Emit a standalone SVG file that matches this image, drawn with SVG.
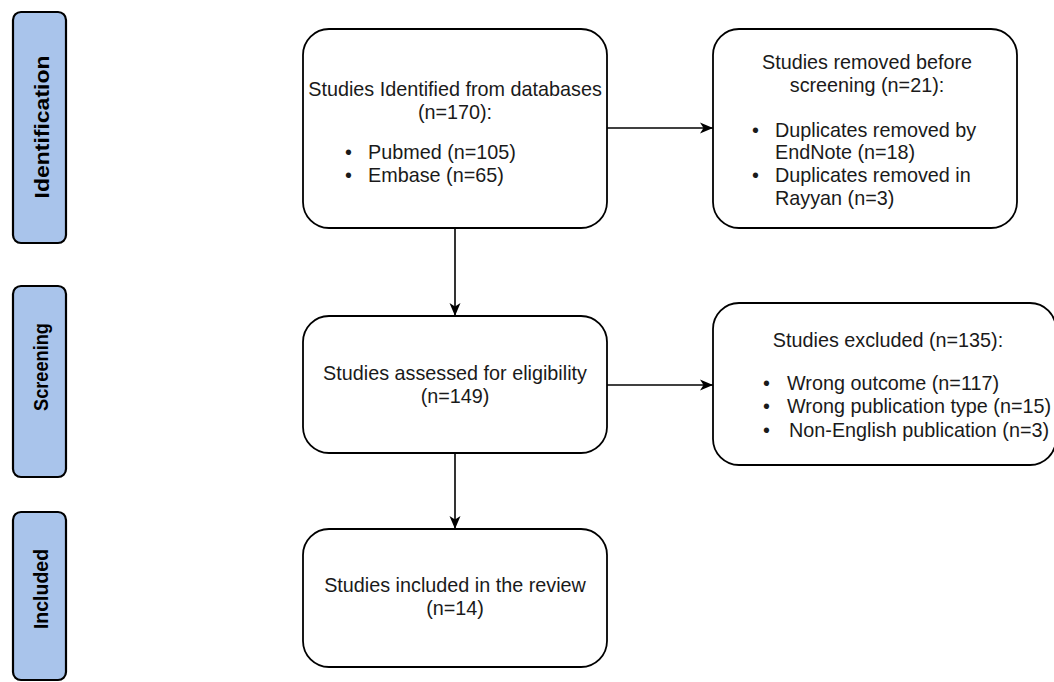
<svg xmlns="http://www.w3.org/2000/svg" width="1054" height="682" viewBox="0 0 1054 682">
  <style>
    .phase { fill: #a9c4eb; stroke: #000; stroke-width: 2.2; }
    .phase-label { font-family: "Liberation Sans", Arial, sans-serif; font-weight: bold; font-size: 19.5px; fill: #000; text-anchor: middle; dominant-baseline: central; }
    .box { fill: #fff; stroke: #000; stroke-width: 1.8; }
    .txt { font-family: "Liberation Sans", Arial, sans-serif; font-size: 19.8px; fill: #1a1a1a; }
    .c { text-anchor: middle; }
    .edge { stroke: #000; stroke-width: 1.6; fill: none; marker-end: url(#arrow); }
  </style>
  <defs>
    <marker id="arrow" markerWidth="16" markerHeight="14" refX="14" refY="7" orient="auto" markerUnits="userSpaceOnUse">
      <path d="M1,1.5 L14,7 L1,12.5 L4.5,7 Z" fill="#000"/>
    </marker>
  </defs>

  <rect width="1054" height="682" fill="#fff"/>

  <!-- phase bars -->
  <g id="phase-identification">
    <rect class="phase" x="13" y="12" width="53" height="231" rx="8"/>
    <text class="phase-label" style="font-size:20.5px" textLength="143" lengthAdjust="spacingAndGlyphs" transform="translate(41,127) rotate(-90)">Identification</text>
  </g>
  <g id="phase-screening">
    <rect class="phase" x="13" y="286" width="53" height="191" rx="8"/>
    <text class="phase-label" textLength="88" lengthAdjust="spacingAndGlyphs" transform="translate(41,367) rotate(-90)">Screening</text>
  </g>
  <g id="phase-included">
    <rect class="phase" x="13" y="512" width="53" height="168" rx="8"/>
    <text class="phase-label" transform="translate(41,589) rotate(-90)">Included</text>
  </g>

  <!-- connectors -->
  <g id="connectors">
    <line class="edge" x1="607" y1="128" x2="713" y2="128"/>
    <line class="edge" x1="455" y1="228" x2="455" y2="316"/>
    <line class="edge" x1="607" y1="385" x2="713" y2="385"/>
    <line class="edge" x1="455" y1="453" x2="455" y2="529"/>
  </g>

  <!-- records identified -->
  <g id="node-identified">
    <rect class="box" x="303" y="29" width="304" height="199" rx="26"/>
    <text class="txt c" x="455" y="96">Studies Identified from databases</text>
    <text class="txt c" x="455" y="119">(n=170):</text>
    <text class="txt" x="345" y="159">•</text>
    <text class="txt" x="368" y="159">Pubmed (n=105)</text>
    <text class="txt" x="345" y="182">•</text>
    <text class="txt" x="368" y="182">Embase (n=65)</text>
  </g>

  <!-- records removed -->
  <g id="node-removed">
    <rect class="box" x="713" y="29" width="304" height="199" rx="26"/>
    <text class="txt c" x="867" y="69">Studies removed before</text>
    <text class="txt c" x="867" y="92">screening (n=21):</text>
    <text class="txt" x="752" y="137">•</text>
    <text class="txt" x="775" y="137">Duplicates removed by</text>
    <text class="txt" x="775" y="159">EndNote (n=18)</text>
    <text class="txt" x="752" y="182">•</text>
    <text class="txt" x="775" y="182">Duplicates removed in</text>
    <text class="txt" x="775" y="205">Rayyan (n=3)</text>
  </g>

  <!-- eligibility -->
  <g id="node-assessed">
    <rect class="box" x="303" y="316" width="304" height="137" rx="26"/>
    <text class="txt c" x="455" y="380">Studies assessed for eligibility</text>
    <text class="txt c" x="455" y="403">(n=149)</text>
  </g>

  <!-- exclusions -->
  <g id="node-excluded">
    <rect class="box" x="713" y="303" width="343" height="162" rx="26"/>
    <text class="txt c" x="888" y="347">Studies excluded (n=135):</text>
    <text class="txt" x="763" y="390">•</text>
    <text class="txt" x="787" y="390">Wrong outcome (n=117)</text>
    <text class="txt" x="763" y="413">•</text>
    <text class="txt" x="787" y="413">Wrong publication type (n=15)</text>
    <text class="txt" x="763" y="437">•</text>
    <text class="txt" x="789" y="437">Non-English publication (n=3)</text>
  </g>

  <!-- included -->
  <g id="node-included">
    <rect class="box" x="303" y="529" width="304" height="138" rx="26"/>
    <text class="txt c" x="455" y="592">Studies included in the review</text>
    <text class="txt c" x="455" y="615">(n=14)</text>
  </g>
</svg>
